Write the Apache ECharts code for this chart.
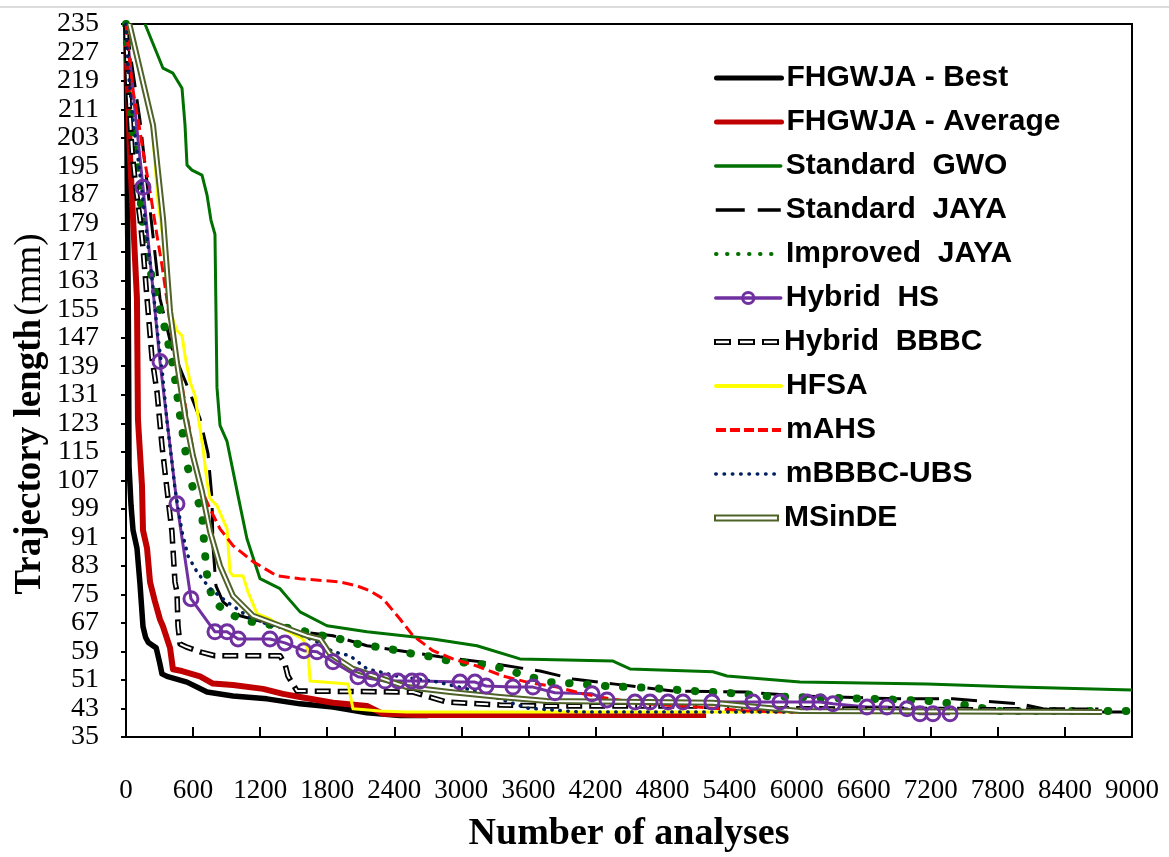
<!DOCTYPE html>
<html>
<head>
<meta charset="utf-8">
<title>Trajectory length convergence</title>
<script src="https://cdn.jsdelivr.net/npm/echarts@6/dist/echarts.min.js"></script>
<style>
  html, body { margin: 0; padding: 0; background: #fff; }
  #chart { width: 1169px; height: 857px; }
</style>
</head>
<body>
<div id="chart"></div>
<script>
// Axis ranges
const X_MIN = 0, X_MAX = 9000, X_STEP = 600;
const Y_MIN = 35, Y_MAX = 235, Y_STEP = 8;

// Series names (legend order)
const names = [
  'FHGWJA - Best', 'FHGWJA - Average', 'Standard  GWO', 'Standard  JAYA',
  'Improved  JAYA', 'Hybrid  HS', 'Hybrid  BBBC', 'HFSA', 'mAHS',
  'mBBBC-UBS', 'MSinDE'
];

// Convergence histories: [number of analyses, trajectory length (mm)]
const best = [[0,235],[8,205],[14,180],[20,158],[24,135],[27,111],[45,100],[63,93],[98,88],[125,78],[152,66],[175,63],[200,61.5],[270,60],[300,56],[322,52.7],[367,52],[546,50.4],[725,47.6],[957,46.5],[1261,45.7],[1557,44.3],[1852,43.4],[2156,41.8],[2451,41],[2700,41]];
const average = [[0,235],[18,215],[36,198],[63,180.5],[98,158],[107,124],[143,105.5],[152,93],[188,88],[215,78.5],[259,73],[304,68],[331,66],[394,60],[420,54],[501,53.5],[662,52],[778,50],[957,49.6],[1226,48.5],[1404,47.1],[1557,46.2],[1852,44.6],[2156,43.7],[2300,41.5],[2600,41.2],[5190,41.2]];
const gwo = [[170,235],[331,222.6],[420,221.2],[501,217],[528,206.6],[546,195.4],[590,194],[680,192.6],[725,187],[760,180],[796,176],[814,133],[841,122.4],[904,117.9],[1002,102.7],[1082,90.6],[1199,79.4],[1378,76.6],[1440,74.3],[1557,70.1],[1798,66.2],[2156,64.5],[2746,62.5],[3140,60.6],[3525,56.9],[4357,56.3],[4509,54.1],[5251,53.3],[5377,52.1],[6030,50.4],[7166,49.9],[7971,49],[9000,48.2]];
const jaya = [[0,235],[125,208],[215,183],[304,158],[411,144],[546,133.6],[662,124.3],[734,114.5],[769,102],[778,88.6],[805,77.4],[868,72.9],[1020,69],[1557,64.5],[1852,63.4],[2156,60.6],[2451,59.2],[2809,57.5],[3200,56],[3704,53.5],[3999,51.3],[4357,49.9],[4893,47.9],[5555,47.6],[6030,46.5],[6924,45.7],[7398,45.7],[7998,44.3],[8203,42.9],[8490,42],[9000,42]];
const improvedJaya = [[0,235],[36,214],[63,203],[107,195.4],[152,177],[188,170],[259,160],[304,154.7],[349,149.6],[411,140.6],[438,135.6],[483,125.2],[510,119.6],[555,110.3],[599,104.7],[680,98.2],[689,93.4],[716,83],[734,78],[787,72.9],[921,69.6],[1074,67.6],[1396,65.9],[1575,64.8],[1762,63.4],[1914,62.5],[2075,61.1],[2245,60.3],[2406,59.4],[2568,58.3],[2737,57.5],[2899,56.3],[3230,55.2],[3391,54.1],[3552,52.4],[3793,50.4],[4062,49.9],[4285,49.3],[4670,48.8],[5072,47.9],[5377,47.4],[5699,46.5],[6012,46.2],[6683,45.7],[7175,45.1],[7506,44],[7792,42.3],[9000,42.3]];
const hybridHs = [[0,235],[152,189.2],[304,140.3],[456,100.4],[581,73.8],[796,64.5],[904,64.5],[1002,62.5],[1288,62.5],[1422,61.4],[1592,59.2],[1709,58.9],[1852,56.1],[2075,51.9],[2201,51.3],[2317,50.7],[2433,50.7],[2559,50.7],[2630,50.7],[2988,50.4],[3122,50.4],[3221,49.3],[3462,49],[3641,49],[3838,47.4],[4169,47.1],[4303,45.4],[4554,44.8],[4688,44.8],[4849,44.8],[4983,44.8],[5242,44.8],[5609,44.8],[5851,44.8],[6092,44.8],[6209,44.8],[6325,44.3],[6629,43.4],[6808,43.4],[6987,42.9],[7103,41.5],[7219,41.5],[7372,41.5]];
const hybridBbbc = [[0,235],[18,218],[54,199.3],[89,188.9],[125,180.5],[152,172.1],[188,158],[233,141.2],[277,131.9],[322,116.7],[376,101.9],[411,92.6],[438,78.5],[456,75.7],[465,66.2],[483,61.1],[537,60.3],[662,58.9],[796,57.8],[1378,57.8],[1422,55.5],[1449,52.1],[1530,47.9],[2568,47.6],[2872,44.8],[3346,44],[3766,43.7],[5135,43.7],[5500,43],[8700,42.5]];
const hfsa = [[10,235],[125,223.5],[197,211.4],[233,206.6],[286,185.3],[331,174.9],[367,160],[394,154.4],[456,149],[501,147.6],[528,142],[572,134.7],[617,130.8],[644,125.2],[689,115.9],[725,106.6],[752,101.9],[814,99.9],[904,93.4],[930,81.3],[957,80.2],[1047,80.2],[1091,75.7],[1172,69.6],[1288,68.1],[1440,64.8],[1583,62.5],[1628,59.7],[1646,50.7],[1762,50.4],[1986,49.9],[2031,42.9],[2272,42.3],[2514,42],[7461,42]];
const mahs = [[0,235],[30,225],[63,216.3],[107,208.6],[152,199.3],[215,188.1],[277,175.7],[322,167.3],[367,157.5],[420,144.8],[465,140.3],[546,125.2],[617,112.2],[671,104.7],[752,99],[841,93.4],[957,88.7],[1136,84.2],[1351,80.2],[1557,79.4],[1914,78.5],[2066,77.4],[2183,76],[2299,73.8],[2451,68.1],[2568,63.4],[2746,59.2],[2925,56.9],[3140,54.9],[3373,52.1],[3587,50.4],[3856,49],[4088,47.1],[4330,45.7],[4661,44.3],[5108,43.4],[5555,42.3],[5940,42],[8356,42]];
const mbbbcUbs = [[0,235],[18,222.6],[63,207.8],[107,197.4],[143,188.1],[170,180.5],[197,172.9],[233,163.7],[277,149.6],[322,138.4],[367,123.5],[411,112.2],[438,104.7],[501,92.6],[555,85.8],[635,81.3],[752,76.6],[904,72.9],[1082,69],[1261,66.7],[1440,65.3],[1709,61.7],[1852,58.9],[2004,57.8],[2156,54.1],[2451,51.9],[2746,50.7],[3051,48.5],[3346,45.7],[3587,43.1],[4062,42],[7461,42]];
const msinde = [[30,235],[242,206.6],[331,180.5],[394,154.4],[456,140],[528,125.2],[599,113.9],[680,103.8],[752,92.6],[841,83],[957,74.6],[1136,69],[1378,66.2],[1619,63.4],[1736,62.5],[1825,58.3],[2031,54.1],[2299,51.3],[2514,49],[2899,47.6],[3346,46.2],[3766,45.1],[4661,44.8],[5251,44.6],[5555,43.7],[6030,42.3],[8731,42]];

const SERIF = '"Liberation Serif", "Times New Roman", serif';
const SANS = '"Liberation Sans", Arial, sans-serif';

// Line styles per series
const styles = {
  best:   { color: '#000000', width: 5.5 },
  avg:    { color: '#C00000', width: 6 },
  gwo:    { color: '#007000', width: 3 },
  jaya:   { color: '#000000', width: 3, type: [26, 12] },
  ijaya:  { color: '#007000', width: 8, type: [0.5, 17.5], cap: 'round' },
  hs:     { color: '#7030A0', width: 3 },
  bbbc:   { color: '#000000', width: 5.5, type: [16, 7] },
  bbbcIn: { color: '#ffffff', width: 2, type: [12, 11], dashOffset: -2 },
  hfsa:   { color: '#FFFF00', width: 3 },
  mahs:   { color: '#FF0000', width: 3, type: [11, 5] },
  mbbbc:  { color: '#002060', width: 3.5, type: [0.5, 7.5], cap: 'round' },
  msin:   { color: '#4F6228', width: 6 },
  msinIn: { color: '#ffffff', width: 2 }
};

function lineSeries(name, data, line, extra) {
  return Object.assign({
    name: name,
    type: 'line',
    data: data,
    symbol: 'none',
    showSymbol: false,
    clip: true,
    silent: true,
    animation: false,
    color: line.color,
    lineStyle: Object.assign({ join: 'round' }, line),
    emphasis: { disabled: true }
  }, extra || {});
}

// Hybrid HS: first point has no marker, the rest carry hollow circles
const hsData = hybridHs.map((p, i) => i === 0 ? { value: p, symbol: 'none' } : p);
const hsMarker = { color: 'rgba(255,255,255,0)', borderColor: '#7030A0', borderWidth: 3 };

const series = [
  lineSeries(names[0], best, styles.best),
  lineSeries(names[1], average, styles.avg),
  lineSeries(names[2], gwo, styles.gwo),
  lineSeries(names[3], jaya, styles.jaya),
  lineSeries(names[4], improvedJaya, styles.ijaya),
  lineSeries(names[5], hsData, styles.hs, {
    symbol: 'circle', showSymbol: true, showAllSymbol: true, symbolSize: 14, itemStyle: hsMarker
  }),
  lineSeries(names[6], hybridBbbc, styles.bbbc, { itemStyle: { color: '#000000' } }),
  lineSeries('Hybrid BBBC core', hybridBbbc, styles.bbbcIn),
  lineSeries(names[7], hfsa, styles.hfsa),
  lineSeries(names[8], mahs, styles.mahs),
  lineSeries(names[9], mbbbcUbs, styles.mbbbc),
  lineSeries(names[10], msinde, styles.msin, { itemStyle: { color: '#4F6228' } }),
  lineSeries('MSinDE core', msinde, styles.msinIn)
];

// Legend: one block per row so every sample keeps its own size
const rowCenters = [78, 122, 166, 210, 254, 298, 342, 386, 430, 474, 518];
const hidden = { opacity: 0 };
const legendItems = [
  { name: names[0], itemStyle: hidden, lineStyle: { color: '#000000', width: 5, cap: 'round' } },
  { name: names[1], itemStyle: hidden, lineStyle: { color: '#C00000', width: 5, cap: 'round' } },
  { name: names[2], itemStyle: hidden, lineStyle: { color: '#007000', width: 3.5, cap: 'round' } },
  { name: names[3], itemStyle: hidden, lineStyle: { color: '#000000', width: 3.5, type: [29, 13] } },
  { name: names[4], itemStyle: hidden, lineStyle: { color: '#007000', width: 4, type: [0.5, 10.5], cap: 'round' } },
  { name: names[5], itemStyle: hsMarker, lineStyle: { color: '#7030A0', width: 3.5, cap: 'round' } },
  { name: names[6], icon: 'path://M0,0H17V6H0Z M2,1.8V4.2H15V1.8Z M24,0H41V6H24Z M26,1.8V4.2H39V1.8Z M48,0H65V6H48Z M50,1.8V4.2H63V1.8Z', itemStyle: { color: '#000000' }, h: 6 },
  { name: names[7], itemStyle: hidden, lineStyle: { color: '#FFFF00', width: 4, cap: 'round' } },
  { name: names[8], itemStyle: hidden, lineStyle: { color: '#FF0000', width: 4, type: [10, 4] } },
  { name: names[9], itemStyle: hidden, lineStyle: { color: '#002060', width: 3.5, type: [0.5, 7.8], cap: 'round' } },
  { name: names[10], icon: 'path://M0,0H65V7H0Z M2,2V5H63V2Z', itemStyle: { color: '#4F6228' }, h: 7 }
];
const legends = legendItems.map((item, i) => {
  const d = { name: item.name, itemStyle: item.itemStyle };
  if (item.icon) d.icon = item.icon;
  if (item.lineStyle) d.lineStyle = item.lineStyle;
  return {
    show: true,
    orient: 'vertical',
    left: 714,
    top: rowCenters[i] - 15,
    padding: 0,
    itemWidth: 65,
    itemHeight: item.h || 14,
    selectedMode: false,
    data: [d],
    textStyle: { fontFamily: SANS, fontWeight: 'bold', fontSize: 30, color: '#000', lineHeight: 30 }
  };
});

const plain = v => String(v);

const chart = echarts.init(document.getElementById('chart'), null, { renderer: 'canvas' });
chart.setOption({
  animation: false,
  backgroundColor: '#ffffff',
  grid: {
    left: 126, top: 24, right: 37, bottom: 120,
    show: true, borderColor: '#000', borderWidth: 2, backgroundColor: 'transparent',
    containLabel: false, outerBoundsMode: 'none'
  },
  xAxis: {
    type: 'value', min: X_MIN, max: X_MAX, interval: X_STEP,
    name: 'Number of analyses', nameLocation: 'middle', nameGap: 78,
    nameTextStyle: { fontFamily: SERIF, fontWeight: 'bold', fontSize: 38, color: '#000' },
    axisLine: { show: true, onZero: false, lineStyle: { color: '#000', width: 2 } },
    axisTick: { show: true, inside: true, length: 10, lineStyle: { color: '#000', width: 2 } },
    axisLabel: { margin: 40, formatter: plain, hideOverlap: false, fontFamily: SERIF, fontSize: 27, color: '#000', showMinLabel: true, showMaxLabel: true },
    splitLine: { show: false }
  },
  yAxis: {
    type: 'value', min: Y_MIN, max: Y_MAX, interval: Y_STEP,
    axisLine: { show: true, onZero: false, lineStyle: { color: '#000', width: 2 } },
    axisTick: { show: true, inside: false, length: 5, lineStyle: { color: '#000', width: 2 } },
    axisLabel: { margin: 27, formatter: plain, hideOverlap: false, fontFamily: SERIF, fontSize: 28, lineHeight: 22, color: '#000', showMinLabel: true, showMaxLabel: true },
    splitLine: { show: false }
  },
  legend: legends,
  graphic: [
    { type: 'line', silent: true, shape: { x1: 0, y1: 7, x2: 1169, y2: 7 }, style: { stroke: '#dcdcdc', lineWidth: 2 } },
    {
      type: 'text', silent: true, x: 30, y: 414, rotation: Math.PI / 2,
      style: {
        text: '{b|Trajectory length} {n|(mm)}',
        align: 'center', verticalAlign: 'middle',
        rich: {
          b: { fontFamily: SERIF, fontWeight: 'bold', fontSize: 37, fill: '#000' },
          n: { fontFamily: SERIF, fontWeight: 'normal', fontSize: 37, fill: '#000' }
        }
      }
    }
  ],
  series: series
});
</script>
</body>
</html>
